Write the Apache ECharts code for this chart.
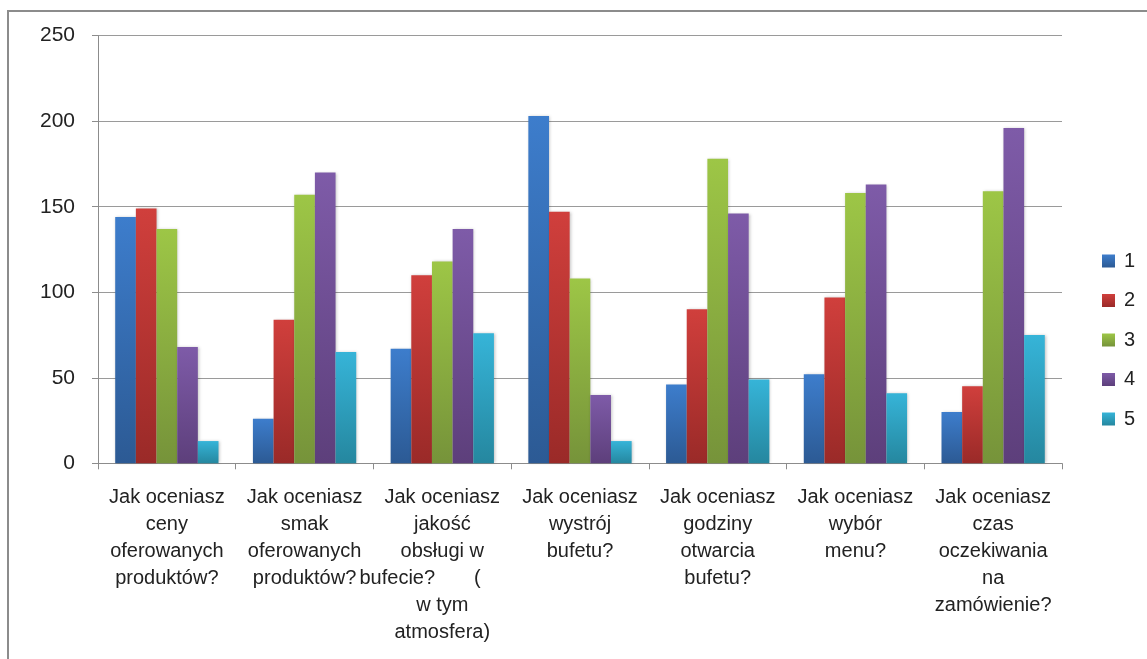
<!DOCTYPE html>
<html>
<head>
<meta charset="utf-8">
<script src="https://cdn.jsdelivr.net/npm/echarts@6/dist/echarts.min.js"></script>
<style>
  html, body { margin: 0; padding: 0; background: #fff; }
  #chart { width: 1147px; height: 659px; }
</style>
</head>
<body>
<div id="chart"></div>
<script>
// categories (x axis labels, wrapped as in the original)
var categories = [
    'Jak oceniasz\nceny\noferowanych\nproduktów?',
    'Jak oceniasz\nsmak\noferowanych\nproduktów?',
    'Jak oceniasz\njakość\nobsługi w\nbufecie?       (        \nw tym\natmosfera)',
    'Jak oceniasz\nwystrój\nbufetu?',
    'Jak oceniasz\ngodziny\notwarcia\nbufetu?',
    'Jak oceniasz\nwybór\nmenu?',
    'Jak oceniasz\nczas\noczekiwania\nna\nzamówienie?'
];

var seriesNames = ['1', '2', '3', '4', '5'];

var s1 = [144, 26, 67, 203, 46, 52, 30];
var s2 = [149, 84, 110, 147, 90, 97, 45];
var s3 = [137, 157, 118, 108, 178, 158, 159];
var s4 = [68, 170, 137, 40, 146, 163, 196];
var s5 = [13, 65, 76, 13, 49, 41, 75];

var yTicks = [0, 50, 100, 150, 200, 250];

// top / bottom colours of the bar gradients
var colorTop = ['#3d7dcc', '#d03f3c', '#9dc646', '#7e5ba8', '#36b4d8'];
var colorBottom = ['#2c5a94', '#9a2a28', '#76933a', '#5d3f7b', '#25879f'];

var chart = echarts.init(document.getElementById('chart'));

var allData = [s1, s2, s3, s4, s5];

function grad(i)
{
    return new echarts.graphic.LinearGradient(0, 0, 0, 1, [
	{offset: 0, color: colorTop[i]},
	{offset: 1, color: colorBottom[i]}
    ]);
}

var series = seriesNames.map(function (name, i) {
    return {
	name: name,
	type: 'bar',
	data: allData[i],
	barGap: '0%',
	barCategoryGap: '25%',
	itemStyle: {
	    color: grad(i),
	    shadowColor: 'rgba(0,0,0,0.25)',
	    shadowBlur: 3,
	    shadowOffsetX: 1,
	    shadowOffsetY: 0
	}
    };
});

var font = 'Liberation Sans';

chart.setOption({
    animation: false,
    textStyle: {fontFamily: font},
    graphic: [{
	type: 'rect',
	shape: {x: 8, y: 11, width: 1160, height: 700},
	style: {fill: null, stroke: '#8c8c8c', lineWidth: 2},
	silent: true
    }],
    grid: {left: 98, right: 85, top: 35.7, bottom: 195.7},
    legend: {
	orient: 'vertical',
	left: 1102,
	top: 251,
	padding: 0,
	itemWidth: 13,
	itemHeight: 13,
	itemGap: 19.5,
	icon: 'rect',
	textStyle: {fontSize: 20, color: '#222', fontFamily: font, lineHeight: 20, padding: [0, 0, 0, 4]},
	data: seriesNames
    },
    xAxis: {
	type: 'category',
	data: categories,
	axisLine: {lineStyle: {color: '#8c8c8c', width: 1}},
	axisTick: {show: true, length: 6, lineStyle: {color: '#8c8c8c'}},
	axisLabel: {
	    interval: 0,
	    fontSize: 20,
	    lineHeight: 27,
	    color: '#222',
	    margin: 21,
	    fontFamily: font
	}
    },
    yAxis: {
	type: 'value',
	min: yTicks[0],
	max: yTicks[yTicks.length - 1],
	interval: 50,
	axisLine: {show: true, lineStyle: {color: '#8c8c8c', width: 1}},
	axisTick: {show: true, length: 6, lineStyle: {color: '#8c8c8c'}},
	splitLine: {lineStyle: {color: '#9a9a9a', width: 1}},
	axisLabel: {fontSize: 21, color: '#222', margin: 23, fontFamily: font}
    },
    series: series
});
</script>
</body>
</html>
